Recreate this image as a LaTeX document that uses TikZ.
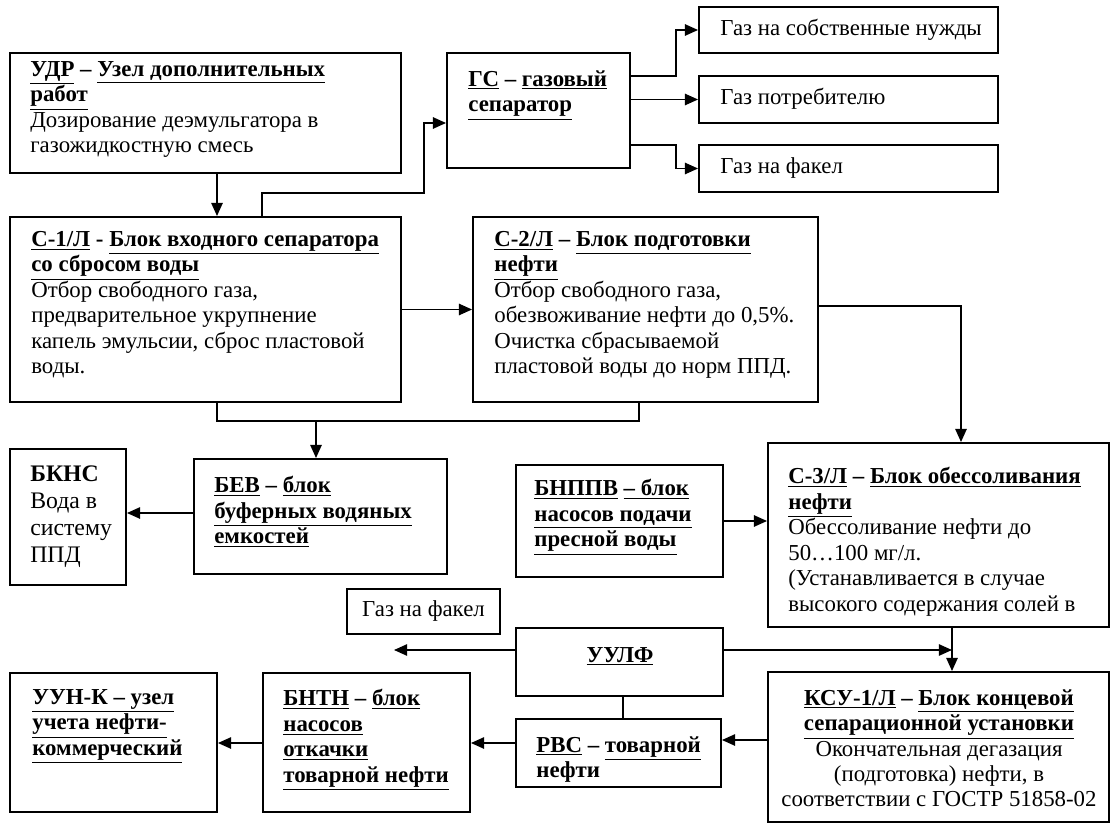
\documentclass[tikz,border=0pt]{standalone}
\usepackage{fontspec}
\setmainfont{Liberation Serif}
\usetikzlibrary{arrows.meta, fit, positioning}

\begin{document}
\begin{tikzpicture}[x=0.02cm, y=-0.02cm,
  box/.style={draw, line width=1.1pt, inner sep=0pt},
  txt/.style={anchor=north west, inner sep=0pt, align=left, font=\fontsize{13}{14.5}\selectfont},
  arr/.style={line width=0.9pt, -{Triangle[length=7.5pt, width=6.5pt]}},
  ln/.style={line width=0.9pt}]
  \useasboundingbox (0,0) rectangle (1112,824);

  % верхний ряд: УДР, ГС и газ
  \node[box, fit={(10,53) (401,173)}] (udr) {};
  \node[txt] (udrt) at (30,61) {\textbf{\underline{УДР} – \underline{Узел дополнительных}}\\
    \textbf{\underline{работ}}\\
    Дозирование деэмульгатора в\\
    газожидкостную смесь};

  \node[box, fit={(447,53) (630,168)}] (gs) {};
  \node[txt] (gst) at (468,70) {\textbf{\underline{ГС} – \underline{газовый}}\\
    \textbf{\underline{сепаратор}}};

  \node[box, fit={(699,7) (998,53)}] (g1) {};
  \node[txt, anchor=west] (g1t) at (720,30) {Газ на собственные нужды};
  \node[box, fit={(699,76) (998,123)}] (g2) {};
  \node[txt, anchor=west] (g2t) at (720,99) {Газ потребителю};
  \node[box, fit={(699,145) (998,192)}] (g3) {};
  \node[txt, anchor=west] (g3t) at (720,168) {Газ на факел};

  % сепараторы С-1/Л и С-2/Л
  \node[box, fit={(10,217) (401,402)}] (c1) {};
  \node[txt] (c1t) at (31,231) {\textbf{\underline{С-1/Л} - \underline{Блок входного сепаратора}}\\
    \textbf{\underline{со сбросом воды}}\\
    Отбор свободного газа,\\
    предварительное укрупнение\\
    капель эмульсии, сброс пластовой\\
    воды.};

  \node[box, fit={(473,217) (818,402)}] (c2) {};
  \node[txt] (c2t) at (494,231) {\textbf{\underline{С-2/Л} – \underline{Блок подготовки}}\\
    \textbf{\underline{нефти}}\\
    Отбор свободного газа,\\
    обезвоживание нефти до 0,5\%.\\
    Очистка сбрасываемой\\
    пластовой воды до норм ППД.};

  % вода и обессоливание
  \node[box, fit={(10,449) (126,585)}] (bkns) {};
  \node[txt, font=\fontsize{13.5}{15.4}\selectfont] (bknst) at (30,465) {\textbf{БКНС}\\
    Вода в\\
    систему\\
    ППД};

  \node[box, fit={(194,459) (447,574)}] (bev) {};
  \node[txt] (bevt) at (214,476) {\textbf{\underline{БЕВ} – \underline{блок}}\\
    \textbf{\underline{буферных водяных}}\\
    \textbf{\underline{емкостей}}};

  \node[box, fit={(516,465) (723,577)}] (bnppv) {};
  \node[txt] (bnppvt) at (534,479) {\textbf{\underline{БНППВ} \underline{– блок}}\\
    \textbf{\underline{насосов подачи}}\\
    \textbf{\underline{пресной воды}}};

  \node[box, fit={(768,443) (1109,627)}] (c3) {};
  \node[txt] (c3t) at (788,467) {\textbf{\underline{С-3/Л} – \underline{Блок обессоливания}}\\
    \textbf{\underline{нефти}}\\
    Обессоливание нефти до\\
    50…100 мг/л.\\
    (Устанавливается в случае\\
    высокого содержания солей в};

  % УУЛФ и нижний ряд
  \node[box, fit={(347,589) (500,634)}] (gf) {};
  \node[txt, anchor=center] (gft) at (gf) {Газ на факел};

  \node[box, fit={(516,628) (723,696)}] (uulf) {};
  \node[txt, anchor=base] (uulft) at (620,662) {\textbf{\underline{УУЛФ}}};

  \node[box, fit={(10,673) (217,812)}] (uun) {};
  \node[txt] (uunt) at (32,689) {\textbf{\underline{УУН-К – узел}}\\
    \textbf{\underline{учета нефти-}}\\
    \textbf{\underline{коммерческий}}};

  \node[box, fit={(263,673) (470,812)}] (bntn) {};
  \node[txt] (bntnt) at (283,689) {\textbf{\underline{БНТН} – \underline{блок}}\\
    \textbf{\underline{насосов}}\\
    \textbf{\underline{откачки}}\\
    \textbf{\underline{товарной нефти}}};

  \node[box, fit={(516,719) (721,787)}] (rvs) {};
  \node[txt] (rvst) at (536,736) {\textbf{\underline{РВС} – \underline{товарной}}\\
    \textbf{нефти}};

  \node[box, fit={(768,672) (1109,822)}] (ksu) {};
  \node[txt, anchor=north, align=center] (ksut) at (939,689) {\textbf{\underline{КСУ-1/Л} – \underline{Блок концевой}}\\
    \textbf{\underline{сепарационной установки}}\\
    Окончательная дегазация\\
    (подготовка) нефти, в\\
    соответствии с ГОСТР 51858-02};

  % свободные концы
  \coordinate (jw) at (316,421);
  \coordinate (fl) at (394,650);
  \coordinate (mid) at (952,650);

  % потоки
  \draw[arr] (udr.south -| 217,0) -- (c1.north -| 217,0);
  \draw[arr] (c1.north -| 262,0) |- (424,193) |- (gs.west |- 0,123);
  \draw[arr] (gs.east |- 0,76) -- (676,76) |- (g1.west);
  \draw[arr] (gs.east |- g2.west) -- (g2.west);
  \draw[arr] (gs.east |- 0,145) -- (676,145) |- (g3.west);
  \draw[arr] (c1.east) -- (c2.west |- c1.east);
  \draw[arr] (c2.east |- 0,306) -| (c3.north -| 961,0);
  \draw[ln] (c1.south -| 217,0) -- (217,421) -- (639,421) -- (c2.south -| 639,0);
  \draw[arr] (jw) -- (bev.north -| jw);
  \draw[arr] (bev.west |- 0,513) -- (bkns.east |- 0,513);
  \draw[arr] (bnppv.east) -- (c3.west |- bnppv.east);
  \draw[arr] (c3.south -| 952,0) -- (ksu.north -| 952,0);
  \draw[arr] (uulf.east |- mid) -- (mid);
  \draw[arr] (uulf.west |- fl) -- (fl);
  \draw[ln] (uulf.south -| 623,0) -- (rvs.north -| 623,0);
  \draw[arr] (ksu.west |- 0,740) -- (rvs.east |- 0,740);
  \draw[arr] (rvs.west |- 0,743) -- (bntn.east |- 0,743);
  \draw[arr] (bntn.west |- 0,743) -- (uun.east |- 0,743);
\end{tikzpicture}
\end{document}
